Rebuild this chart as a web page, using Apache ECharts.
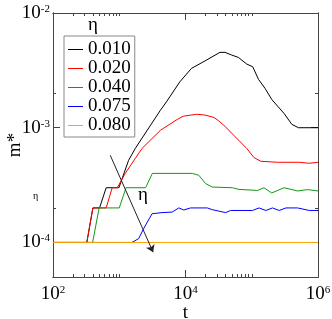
<!DOCTYPE html>
<html><head><meta charset="utf-8">
<script src="https://cdn.jsdelivr.net/npm/echarts@6/dist/echarts.min.js"></script>
<style>html,body{margin:0;padding:0;background:#fff}#c{width:332px;height:319px}</style>
</head><body><div id="c"></div>
<script>
// ---- data ----
const etaLabels = ['0.010', '0.020', '0.040', '0.075', '0.080'];
const colors = ['#000000', '#ff0000', '#119911', '#0000ff', '#ffa500'];

const tBlack = [100, 324, 400, 504, 635, 989, 1383, 1746, 4180, 5150, 8200, 12300, 20800, 33100, 39400, 49800, 62900, 84000, 103500, 126400, 159000, 201000, 308000, 403000, 507000, 1000000];
const mBlack = [1e-4, 1e-4, 2e-4, 2e-4, 3e-4, 3e-4, 5.2e-4, 6.6e-4, 1.42e-3, 1.68e-3, 2.51e-3, 3.29e-3, 3.89e-3, 4.54e-3, 4.54e-3, 4.30e-3, 4.10e-3, 3.59e-3, 3.40e-3, 2.64e-3, 2.20e-3, 1.76e-3, 1.33e-3, 1.07e-3, 1.0e-3, 1.0e-3];

const tRed = [100, 324, 400, 635, 783, 933, 1233, 1746, 2208, 4180, 7480, 9230, 14700, 19600, 26800, 31600, 39400, 53300, 84000, 108000, 137000, 245000, 521000, 738000, 1000000];
const mRed = [1e-4, 1e-4, 2e-4, 2e-4, 3e-4, 3e-4, 4.0e-4, 5.4e-4, 6.6e-4, 9.5e-4, 1.18e-3, 1.26e-3, 1.31e-3, 1.29e-3, 1.23e-3, 1.15e-3, 1.03e-3, 8.6e-4, 6.6e-4, 5.5e-4, 5.1e-4, 5.0e-4, 5.0e-4, 4.9e-4, 5.0e-4];

const tGreen = [100, 396, 497, 1000, 1265, 2500, 3160, 12650, 15900, 20100, 25400, 51000, 64300, 122000, 153000, 199000, 308000, 492000, 698000, 1000000];
const mGreen = [1e-4, 1e-4, 2e-4, 2e-4, 3e-4, 3e-4, 4e-4, 4e-4, 3.85e-4, 3.26e-4, 3.04e-4, 3.0e-4, 2.9e-4, 2.84e-4, 3.0e-4, 2.7e-4, 3.0e-4, 2.81e-4, 2.89e-4, 2.81e-4];

const tBlue = [100, 1556, 1960, 2335, 3127, 4430, 6280, 7910, 9420, 11900, 21300, 25400, 40400, 48100, 102500, 129000, 163000, 206000, 260000, 328000, 492000, 738000, 1000000];
const mBlue = [1e-4, 1e-4, 1.08e-4, 1.32e-4, 1.78e-4, 1.82e-4, 1.84e-4, 2.0e-4, 1.92e-4, 2.0e-4, 2.0e-4, 1.93e-4, 1.82e-4, 1.9e-4, 1.9e-4, 2.0e-4, 1.9e-4, 2.0e-4, 1.9e-4, 2.0e-4, 2.0e-4, 1.9e-4, 1.9e-4];

const tOrange = [100, 1000000];
const mOrange = [1e-4, 1e-4];

// arrow annotation (data coordinates)
const arrowT = [731, 3240];
const arrowM = [5.75e-4, 8.23e-5];

// ticks
const xMajor = [1e2, 1e4, 1e6];
const xMinor = [200, 300, 400, 500, 600, 700, 800, 900, 1000, 20000, 30000, 40000, 50000, 60000, 70000, 80000, 90000, 100000];
const yMajor = [1e-4, 1e-3, 1e-2];
const yMinor = [2e-4, 2e-3];

// ---- chart ----
const FONT = '"Liberation Serif", "DejaVu Serif", serif';
const AX = '#444';
function powLabel(v) { return '{b|10}{e|' + Math.round(Math.log10(v)) + '}'; }
const rich = {
  b: { fontFamily: FONT, fontSize: 19, color: '#000' },
  e: { fontFamily: FONT, fontSize: 11, color: '#000', verticalAlign: 'top' }
};
function xAx(pos, ticks, len, withLabels) {
  const a = {
    type: 'log', logBase: 10, position: pos, min: 100, max: 1e6,
    axisLine: { show: true, onZero: false, lineStyle: { color: AX, width: 1 } },
    axisTick: { show: true, inside: true, length: len, customValues: ticks, lineStyle: { color: AX } },
    axisLabel: { show: false },
    splitLine: { show: false }, minorTick: { show: false }, minorSplitLine: { show: false }
  };
  if (withLabels) {
    a.axisLabel = { show: true, customValues: xMajor, formatter: powLabel, rich: rich, margin: 8 };
    a.name = 't'; a.nameLocation = 'middle'; a.nameGap = 27; a.nameMoveOverlap = false;
    a.nameTextStyle = { fontFamily: FONT, fontSize: 19, color: '#000' };
  }
  return a;
}
function yAx(pos, ticks, len, withLabels) {
  const a = {
    type: 'log', logBase: 10, position: pos, min: 5e-5, max: 1e-2,
    axisLine: { show: true, onZero: false, lineStyle: { color: AX, width: 1 } },
    axisTick: { show: true, inside: true, length: len, customValues: ticks, lineStyle: { color: AX } },
    axisLabel: { show: false },
    splitLine: { show: false }, minorTick: { show: false }, minorSplitLine: { show: false }
  };
  if (withLabels) {
    a.axisLabel = { show: true, customValues: yMajor, formatter: powLabel, rich: rich, margin: 3 };
    a.name = 'm*'; a.nameLocation = 'middle'; a.nameGap = 28; a.nameMoveOverlap = false;
    a.nameTextStyle = { fontFamily: FONT, fontSize: 19, color: '#000' };
  }
  return a;
}

const tSets = [tBlack, tRed, tGreen, tBlue, tOrange];
const mSets = [mBlack, mRed, mGreen, mBlue, mOrange];
const series = etaLabels.map((name, k) => ({
  name: name, type: 'line', xAxisIndex: 0, yAxisIndex: 0,
  showSymbol: false, symbol: 'none', smooth: false,
  lineStyle: { color: colors[k], width: 1 }, itemStyle: { color: colors[k] },
  data: tSets[k].map((t, i) => [t, mSets[k][i]]),
  animation: false
}));
series[4].markLine = {
  silent: true, symbol: ['none', 'arrow'], symbolSize: 7, animation: false,
  label: { show: false },
  lineStyle: { color: '#222', width: 1, type: 'solid' },
  data: [[{ coord: [arrowT[0], arrowM[0]] }, { coord: [arrowT[1], arrowM[1]] }]]
};

const chart = echarts.init(document.getElementById('c'), null, { renderer: 'canvas' });
chart.setOption({
  animation: false,
  backgroundColor: '#fff',
  grid: { left: 53, right: 14, top: 13, bottom: 42, containLabel: false, outerBoundsMode: 'none' },
  xAxis: [xAx('bottom', xMajor, 7, true), xAx('top', xMajor, 7, false), xAx('bottom', xMinor, 3, false), xAx('top', xMinor, 3, false)],
  yAxis: [yAx('left', yMajor, 7, true), yAx('right', yMajor, 7, false), yAx('left', yMinor, 3, false), yAx('right', yMinor, 3, false)],
  title: { text: 'η', left: 88, top: 16, padding: 0, textStyle: { fontFamily: FONT, fontSize: 19, fontWeight: 'normal', color: '#000' } },
  legend: {
    orient: 'vertical', left: 64, top: 36, padding: [4, 4, 2, 4], itemGap: 0,
    itemWidth: 15, itemHeight: 1, icon: 'rect',
    backgroundColor: '#fff', borderColor: '#888', borderWidth: 1, borderRadius: 0,
    textStyle: { fontFamily: FONT, fontSize: 19, lineHeight: 17, color: '#000' },
    data: etaLabels
  },
  graphic: [
    { type: 'text', left: 33, top: 191, silent: true, style: { text: 'η', font: '10px ' + FONT, fill: '#000' } },
    { type: 'text', left: 138, top: 186, silent: true, style: { text: 'η', font: '19px ' + FONT, fill: '#000' } }
  ],
  series: series
});
</script>
</body></html>
